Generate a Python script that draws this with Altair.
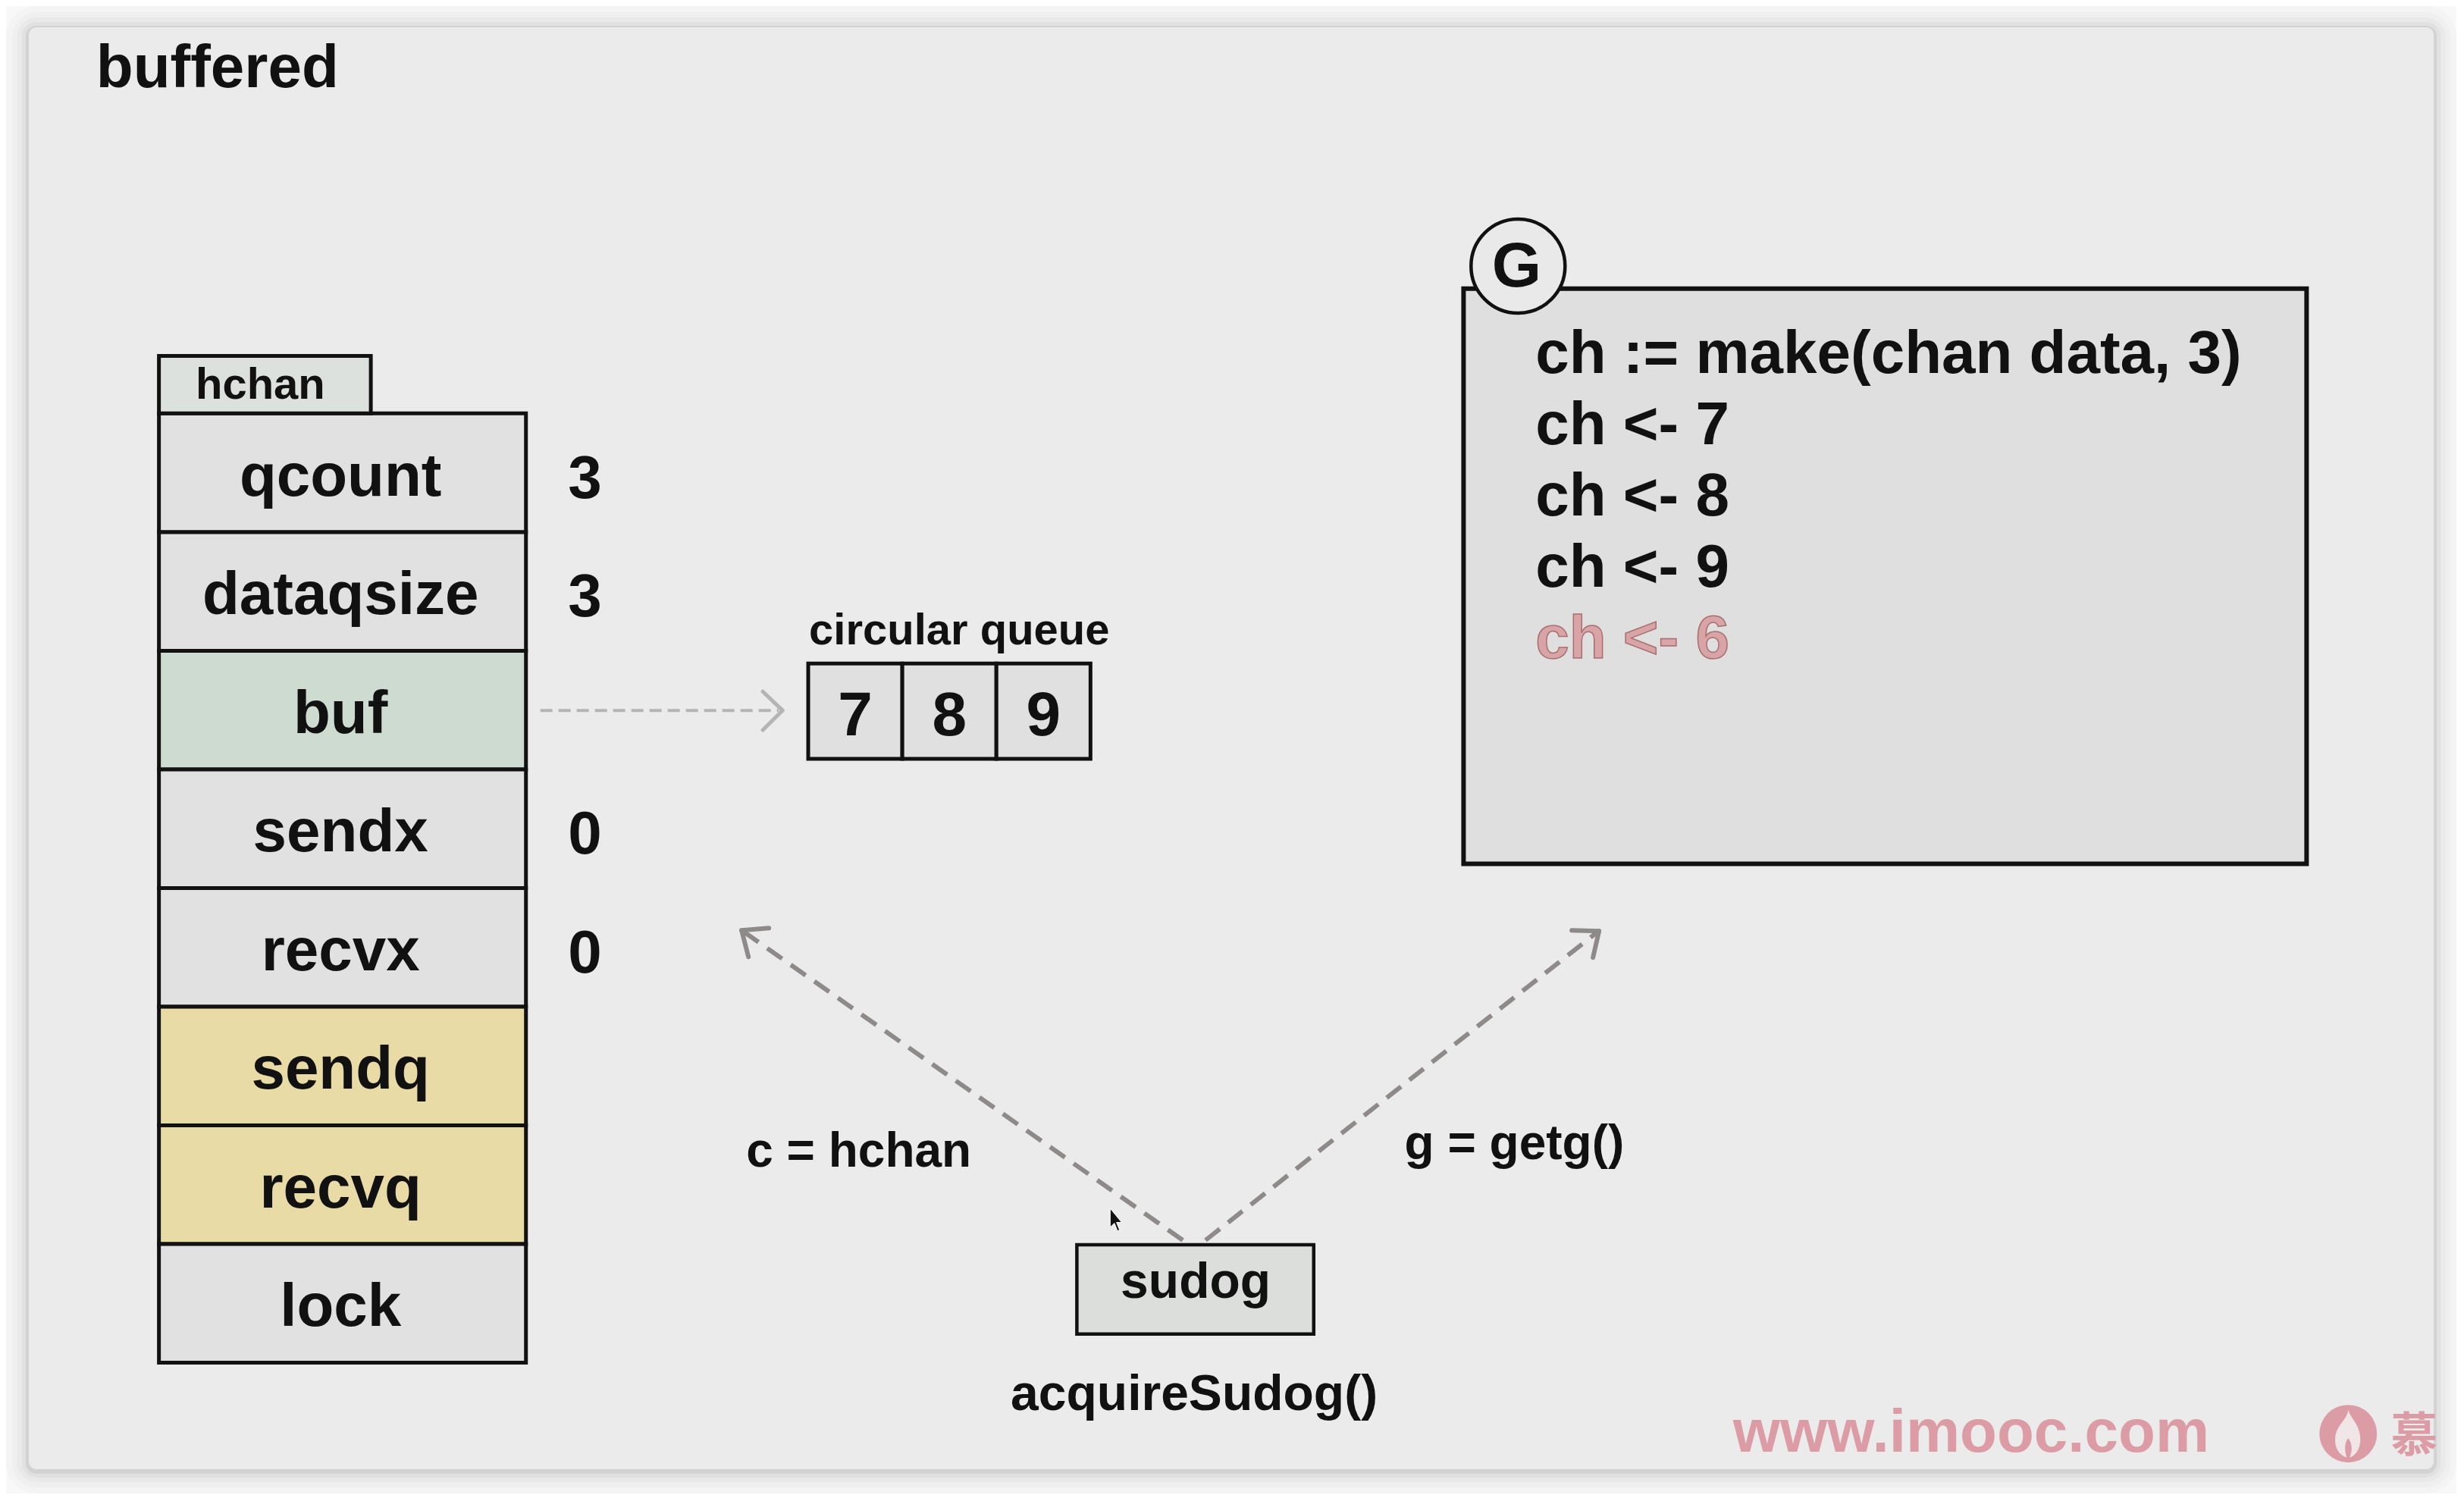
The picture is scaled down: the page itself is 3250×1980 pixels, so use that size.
import altair as alt
import pandas as pd

# ---- diagram content ----
title = "buffered"
struct_name = "hchan"
fields = ["qcount", "dataqsize", "buf", "sendx", "recvx", "sendq", "recvq", "lock"]
field_kind = ["plain", "plain", "pointer", "plain", "plain", "waitq", "waitq", "plain"]
field_values = ["3", "3", "", "0", "0", "", "", ""]
queue_label = "circular queue"
queue_items = ["7", "8", "9"]
g_label = "G"
code_lines = ["ch := make(chan data, 3)", "ch <- 7", "ch <- 8", "ch <- 9", "ch <- 6"]
code_state = ["done", "done", "done", "done", "blocked"]
sudog_label = "sudog"
sudog_call = "acquireSudog()"
link_labels = ["c = hchan", "g = getg()"]
watermark = "www.imooc.com"
brand_char = "慕"

# ---- layout (page pixels) ----
W, H, M = 3250, 1980, 8
FONT = "Liberation Sans"
INK = "#111111"

xs = alt.Scale(domain=[M, W - M], nice=False, zero=False)
ys = alt.Scale(domain=[M, H - M], nice=False, zero=False, reverse=True)


def X(f="x"):
    return alt.X(f"{f}:Q", scale=xs, axis=None)


def Y(f="y"):
    return alt.Y(f"{f}:Q", scale=ys, axis=None)


def boxes(df, **mark):
    return alt.Chart(df).mark_rect(**mark).encode(
        x=X("x0"), x2="x1", y=Y("y0"), y2="y1"
    )


def labels(df, **mark):
    return alt.Chart(df).mark_text(font=FONT, fontWeight="bold", **mark).encode(
        x=X(), y=Y(), text="t:N"
    )


def segments(df, **mark):
    return alt.Chart(df).mark_rule(**mark).encode(
        x=X("x0"), y=Y("y0"), x2="x1", y2="y1"
    )


# panel with soft drop shadow
px0, px1, py0, py1 = 35, 3213, 35, 1943
shadow = []
for d, col, op in [(30, "#000000", 0.015), (22, "#000000", 0.02), (15, "#000000", 0.025),
                   (9, "#000000", 0.03), (4, "#d2d2d2", 1.0)]:
    shadow.append(boxes(pd.DataFrame({"x0": [px0 - d], "x1": [px1 + d], "y0": [py0 - d + 2],
                                      "y1": [py1 + d + 2]}),
                        color=col, opacity=op, cornerRadius=10 + d))
panel = boxes(pd.DataFrame({"x0": [px0], "x1": [px1], "y0": [py0], "y1": [py1]}),
              color="#ebebeb", cornerRadius=10)

title_txt = labels(pd.DataFrame({"x": [124], "y": [114], "t": [title]}),
                   fontSize=80, align="left", baseline="alphabetic", color=INK)

# hchan struct
SX0, SX1, ROW_TOP, ROW_H = 207, 692, 546, 157
rows = pd.DataFrame({
    "name": fields, "kind": field_kind, "value": field_values,
})
rows["x0"] = SX0
rows["x1"] = SX1
rows["y0"] = ROW_TOP + rows.index * ROW_H
rows["y1"] = rows["y0"] + ROW_H
rows["yc"] = rows["y0"] + ROW_H / 2

tab = boxes(pd.DataFrame({"x0": [SX0], "x1": [487], "y0": [470], "y1": [ROW_TOP]}),
            fill="#dde1de", stroke=INK, strokeWidth=5)
tab_txt = labels(pd.DataFrame({"x": [341], "y": [527], "t": [struct_name]}),
                 fontSize=58, align="center", baseline="alphabetic", color=INK)

row_rects = alt.Chart(rows).mark_rect(stroke=INK, strokeWidth=5).encode(
    x=X("x0"), x2="x1", y=Y("y0"), y2="y1",
    fill=alt.Fill("kind:N", legend=None,
                  scale=alt.Scale(domain=["plain", "pointer", "waitq"],
                                  range=["#e1e1e1", "#cddbd1", "#e8dba6"])),
)
row_txt = alt.Chart(rows).transform_calculate(ty="datum.yc + 30").mark_text(
    font=FONT, fontWeight="bold", fontSize=80, align="center", baseline="alphabetic", color=INK
).encode(x=alt.X("xm:Q", scale=xs, axis=None), y=Y("ty"), text="name:N").transform_calculate(xm="447")
val_txt = alt.Chart(rows).transform_filter("datum.value != ''").transform_calculate(
    ty="datum.yc + 33", xm="770"
).mark_text(font=FONT, fontWeight="bold", fontSize=80, align="center",
            baseline="alphabetic", color=INK).encode(
    x=alt.X("xm:Q", scale=xs, axis=None), y=Y("ty"), text="value:N")

# circular queue
QX0, QX1, QY0, QY1 = 1065, 1438, 877, 1003
cw = (QX1 - QX0) / len(queue_items)
q = pd.DataFrame({"t": queue_items})
q["x0"] = QX0 + q.index * cw
q["x1"] = q["x0"] + cw
q["y0"] = QY0
q["y1"] = QY1
q["x"] = q["x0"] + cw / 2
q["y"] = 972
q_rects = boxes(q, fill="#e0e0e0", stroke=INK, strokeWidth=5)
q_txt = labels(q, fontSize=82, align="center", baseline="alphabetic", color=INK)
q_label = labels(pd.DataFrame({"x": [1066], "y": [852], "t": [queue_label]}),
                 fontSize=58, align="left", baseline="alphabetic", color=INK)

buf_line = segments(pd.DataFrame({"x0": [711], "y0": [939], "x1": [1026], "y1": [939]}),
                    color="#b4b4b4", strokeWidth=4, strokeDash=[16, 8])
buf_head = segments(pd.DataFrame({"x0": [1031, 1031], "y0": [939, 939],
                                  "x1": [1005, 1005], "y1": [914, 965]}),
                    color="#b4b4b4", strokeWidth=5, strokeCap="round")

# goroutine G
g_box = boxes(pd.DataFrame({"x0": [1931], "x1": [3045], "y0": [381], "y1": [1142]}),
              fill="#dfdfdf", stroke=INK, strokeWidth=6)
g_circle = alt.Chart(pd.DataFrame({"x": [2003], "y": [351]})).mark_point(
    shape="circle", size=124 * 124, filled=True, fill="#e9e9e9", stroke=INK,
    strokeWidth=4.5, opacity=1
).encode(x=X(), y=Y())
g_txt = labels(pd.DataFrame({"x": [2001], "y": [378], "t": [g_label]}),
               fontSize=84, align="center", baseline="alphabetic", color=INK)

code = pd.DataFrame({"t": code_lines, "state": code_state})
code["x"] = 2026
code["y"] = 492 + code.index * 94.3
code_done = labels(code[code.state == "done"], fontSize=80, align="left",
                   baseline="alphabetic", color=INK)
code_blocked = labels(code[code.state == "blocked"], fontSize=80, align="left",
                      baseline="alphabetic", color="#d9a4a5", stroke="#a86f70",
                      strokeWidth=1.5)

# sudog
sd_box = boxes(pd.DataFrame({"x0": [1420], "x1": [1733], "y0": [1646], "y1": [1764]}),
               fill="#dcdedc", stroke=INK, strokeWidth=4.5)
sd_txt = labels(pd.DataFrame({"x": [1577, 1575], "y": [1716, 1865],
                              "t": [sudog_label, sudog_call]}),
                fontSize=66, align="center", baseline="alphabetic", color=INK)

links = segments(pd.DataFrame({"x0": [1560, 1590], "y0": [1640, 1640],
                               "x1": [980, 2107], "y1": [1232, 1233]}),
                 color="#8e8a8a", strokeWidth=6, strokeDash=[24, 14])
link_heads = segments(pd.DataFrame({"x0": [977, 977, 2110, 2110],
                                    "y0": [1230, 1230, 1231, 1231],
                                    "x1": [1013, 986, 2074, 2102],
                                    "y1": [1227, 1265, 1230, 1266]}),
                      color="#8e8a8a", strokeWidth=6, strokeCap="round")
link_txt = labels(pd.DataFrame({"x": [983, 1853], "y": [1543, 1533], "t": link_labels}),
                  fontSize=64, align="left", baseline="alphabetic", color=INK)

cursor = alt.Chart(pd.DataFrame({"x": [1464], "y": [1614]})).mark_point(
    shape="M0,-1L0,0.55L0.35,0.22L0.6,0.85L0.78,0.78L0.52,0.15L0.95,0.15Z",
    size=1024, filled=True, fill=INK, stroke="#ffffff", strokeWidth=1, opacity=1
).encode(x=X(), y=Y())

# watermark
PINK = "#dc9ca5"
wm_txt = labels(pd.DataFrame({"x": [2287], "y": [1920], "t": [watermark]}),
                fontSize=80, align="left", baseline="alphabetic", color=PINK)
logo = alt.Chart(pd.DataFrame({"x": [3100], "y": [1896]})).mark_point(
    shape="circle", size=76 * 76, filled=True, color=PINK, opacity=1
).encode(x=X(), y=Y())
flame = alt.Chart(pd.DataFrame({"x": [3100], "y": [1896]})).mark_point(
    shape=("M0,-0.82C0.1,-0.5 0.42,-0.3 0.42,0.2C0.42,0.58 0.2,0.8 0.05,0.82"
           "C0.15,0.6 0.15,0.35 0,0.15C-0.15,0.35 -0.12,0.6 -0.05,0.82"
           "C-0.3,0.75 -0.48,0.5 -0.45,0.15C-0.42,-0.3 -0.05,-0.45 0,-0.82Z"),
    size=76 * 76, filled=True, color="#f1e6e7", opacity=1
).encode(x=X(), y=Y())
brand = alt.Chart(pd.DataFrame({"x": [3156], "y": [1920], "t": [brand_char]})).mark_text(
    font="Noto Sans CJK SC", fontWeight="bold", fontSize=62, align="left",
    baseline="alphabetic", color=PINK
).encode(x=X(), y=Y(), text="t:N")

chart = alt.layer(
    *shadow, panel, title_txt,
    row_rects, tab, tab_txt, row_txt, val_txt,
    buf_line, buf_head, q_rects, q_txt, q_label,
    g_box, g_circle, g_txt, code_done, code_blocked,
    links, link_heads, sd_box, sd_txt, link_txt, cursor,
    wm_txt, logo, flame, brand,
).properties(
    width=W - 2 * M - 2, height=H - 2 * M - 2,
    autosize=alt.AutoSizeParams(type="fit", contains="padding"),
    padding=0, background="#f8f8f8",
).configure_view(stroke=None)

chart.save("out.html", embed_options={"renderer": "svg", "actions": False})
